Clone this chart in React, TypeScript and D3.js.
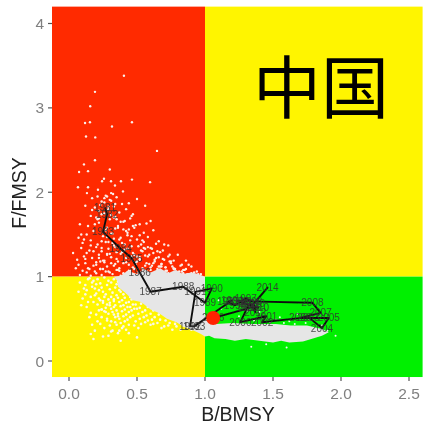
import React from "react";
import * as d3 from "d3";

const W = 423, H = 425;
const xTicks = [0, 0.5, 1, 1.5, 2, 2.5];
const yTicks = [0, 1, 2, 3, 4];

const years = [1981,1982,1983,1984,1985,1986,1987,1988,1989,1990,1991,1992,1993,1994,1995,1996,1997,1998,1999,2000,2001,2002,2003,2004,2005,2006,2007,2008,2009,2010,2011,2012,2013,2014,2015,2016];
const bmsy = [0.265,0.28,0.25,0.38,0.46,0.52,0.60,0.84,1.0,1.05,0.93,0.89,0.92,1.2,1.17,1.22,1.3,1.34,1.31,1.26,1.45,1.42,1.76,1.86,1.91,1.70,1.85,1.79,1.24,1.39,1.33,1.37,1.36,1.46,1.33,1.06];
const fmsy = [1.82,1.74,1.53,1.33,1.22,1.05,0.82,0.88,0.69,0.86,0.82,0.41,0.41,0.72,0.70,0.66,0.74,0.71,0.63,0.46,0.53,0.46,0.52,0.39,0.51,0.51,0.57,0.69,0.71,0.63,0.68,0.58,0.68,0.87,0.63,0.51];

const cloudX = [0.36,0.42,0.47,0.53,0.6,0.66,0.72,0.79,0.85,0.92,0.97,1.0,1.03,1.07,1.15,1.22,1.3,1.4,1.5,1.56,1.62,1.72,1.8,1.86,1.91,1.86,1.75,1.63,1.52,1.35,1.2,1.08,1.02,1.0,1.0,0.95,0.9,0.84,0.78,0.73,0.67,0.6,0.55,0.5,0.43,0.38,0.33,0.36];
const cloudY = [0.88,0.8,0.72,0.7,0.61,0.57,0.5,0.46,0.4,0.36,0.32,0.29,0.3,0.27,0.26,0.24,0.26,0.24,0.22,0.24,0.22,0.23,0.27,0.3,0.34,0.38,0.42,0.42,0.44,0.44,0.45,0.44,0.47,0.55,1.0,1.03,1.05,1.03,1.08,1.04,1.1,1.05,1.09,1.03,1.07,1.01,1.0,0.94];

const redDotX = [0.404,0.191,0.156,0.118,0.154,0.316,0.463,0.125,0.193,0.647,0.191,0.11,0.074,0.14,0.30,0.066,0.14,0.243,0.257,0.309,0.382,0.463,0.596,0.338,0.213,0.397,0.132,0.324,
0.17,0.21,0.24,0.27,0.31,0.35,0.39,0.44,0.5,0.56,0.12,0.19,0.23,0.29,0.33,0.37,0.42,0.47,0.16,0.2,0.26,0.3,0.34,0.41,0.45,0.52,0.6,0.08,0.14,0.22,0.28,0.36,0.4,0.48,0.55,0.62,
0.07,0.13,0.18,0.25,0.32,0.38,0.43,0.5,0.58,0.66,0.1,0.16,0.21,0.27,0.33,0.39,0.46,0.53,0.61,0.7,0.03,0.09,0.15,0.2,0.24,0.29,0.35,0.41,0.47,0.54,0.59,0.65,0.73,0.8,
0.06,0.11,0.17,0.22,0.26,0.31,0.36,0.42,0.49,0.52,0.57,0.63,0.68,0.75,0.83,0.9,0.94,0.12,0.18,0.23,0.28,0.34,0.37,0.44,0.48,0.56,0.6,0.66,0.71,0.77,0.86,0.1,0.14,0.19,0.25,0.3,0.35,0.4,0.45,0.51,0.55,0.62,0.67,0.72,0.79,0.84,0.92,0.97,
0.08,0.13,0.16,0.2,0.24,0.27,0.32,0.38,0.43,0.47,0.53,0.58,0.64,0.69,0.74,0.78,0.82,0.87,0.91,
0.2,0.23,0.26,0.29,0.33,0.36,0.4,0.44,0.47,0.5,0.54,0.57,0.61,0.65,0.68,0.72,0.76,0.8,0.84,0.22,0.25,0.28,0.31,0.35,0.38,0.42,0.46,0.49,0.52,0.56,0.59,0.63,0.67,0.71,0.75,0.78,0.82,
0.18,0.24,0.3,0.34,0.39,0.43,0.48,0.53,0.58,0.62,0.66,0.7,0.74,0.77,0.24,0.28,0.32,0.37,0.41,0.45,0.51,0.55,0.6,0.64,0.69,0.73,0.27,0.31,0.36,0.42,0.47,0.52,0.57,0.35,0.4,0.46,0.22,0.29,0.26,0.3,0.24,0.33,0.28,0.22,0.31,0.34,
0.11,0.19,0.37,0.56,0.77,0.69,0.88,0.15,0.44,0.62,0.05,0.31,0.52,0.09,0.74,0.26,0.58,0.83,0.13,0.49,0.67,0.95,0.21,0.41,0.86,0.07,0.33,0.71,0.16,0.54,0.9,0.28,0.64,0.38,0.81,0.23,0.6,0.46,0.17,0.73,0.34,0.93,0.12,0.55,0.43,0.68,0.29,0.85,0.2,0.5];
const redDotY = [3.38,3.19,3.02,2.82,2.83,2.78,2.83,2.66,2.65,2.49,2.38,2.33,2.24,2.25,2.27,2.06,2.06,2.13,2.16,2.13,2.13,2.15,2.12,2.08,2.03,2.01,1.99,1.98,
1.93,1.95,1.89,1.96,1.9,1.94,1.86,1.87,1.92,1.84,1.84,1.82,1.85,1.8,1.83,1.76,1.8,1.74,1.72,1.7,1.75,1.68,1.71,1.66,1.69,1.62,1.66,1.62,1.6,1.64,1.58,1.6,1.56,1.58,1.52,1.55,
1.46,1.5,1.54,1.48,1.51,1.46,1.49,1.44,1.47,1.42,1.4,1.43,1.38,1.41,1.37,1.4,1.36,1.38,1.33,1.38,1.28,1.34,1.31,1.35,1.3,1.33,1.29,1.32,1.28,1.3,1.26,1.3,1.24,1.26,
1.2,1.24,1.22,1.26,1.19,1.23,1.18,1.22,1.17,1.21,1.16,1.2,1.15,1.18,1.14,1.12,1.06,1.16,1.13,1.18,1.12,1.15,1.1,1.14,1.09,1.13,1.08,1.12,1.07,1.1,1.09,1.07,1.1,1.06,1.09,1.05,1.08,1.04,1.07,1.05,1.08,1.04,1.06,1.03,1.06,1.04,1.05,1.03,
1.02,1.05,1.01,1.04,1.02,1.06,1.03,1.01,1.05,1.02,1.04,1.01,1.03,1.05,1.02,1.04,1.01,1.03,1.02,
1.14,1.09,1.17,1.06,1.13,1.08,1.16,1.07,1.11,1.18,1.1,1.06,1.13,1.09,1.15,1.07,1.12,1.05,1.08,1.22,1.19,1.26,1.16,1.21,1.27,1.17,1.24,1.14,1.2,1.25,1.15,1.18,1.12,1.11,1.16,1.09,1.13,
1.3,1.34,1.27,1.35,1.29,1.33,1.26,1.31,1.24,1.28,1.23,1.2,1.26,1.19,1.42,1.47,1.4,1.44,1.38,1.43,1.36,1.41,1.34,1.39,1.31,1.37,1.55,1.51,1.58,1.54,1.6,1.49,1.63,1.68,1.65,1.72,1.78,1.83,1.88,1.91,1.74,1.7,1.95,1.69,1.99,1.86,
1.44,1.62,1.07,1.33,1.09,1.21,1.14,1.09,1.56,1.16,1.1,1.73,1.23,1.5,1.18,1.93,1.35,1.06,1.28,1.61,1.29,1.03,1.68,1.03,1.19,1.14,1.45,1.11,1.37,1.43,1.04,1.27,1.22,1.65,1.06,1.09,1.11,1.48,1.79,1.04,1.57,1.02,1.21,1.34,1.52,1.12,1.41,1.08,1.17,1.24];

const yellowDotX = [0.15,0.21,0.26,0.29,0.33,0.36,0.41,0.46,0.5,0.54,0.57,0.61,0.65,0.7,0.76,0.81,0.85,0.89,0.12,0.17,0.23,0.28,0.31,0.35,0.39,0.44,0.49,0.52,0.56,0.6,0.63,0.68,0.72,0.77,0.83,0.88,
0.13,0.19,0.24,0.3,0.34,0.37,0.42,0.47,0.51,0.55,0.59,0.64,0.69,0.75,0.8,0.86,0.92,
0.16,0.2,0.25,0.27,0.32,0.35,0.38,0.4,0.43,0.45,0.48,0.5,0.53,0.58,0.62,0.66,0.71,0.74,0.78,0.84,0.9,
0.18,0.22,0.26,0.29,0.31,0.33,0.36,0.39,0.41,0.44,0.46,0.49,0.52,0.56,0.6,0.63,0.67,0.73,0.79,0.82,
0.21,0.25,0.28,0.3,0.34,0.37,0.4,0.42,0.45,0.47,0.5,0.54,0.57,0.61,0.65,0.7,0.76,
0.24,0.27,0.31,0.33,0.35,0.38,0.41,0.43,0.46,0.48,0.51,0.55,0.58,0.62,0.68,0.29,0.32,0.36,0.39,0.42,0.44,0.47,0.52,0.56,0.6,
0.34,0.37,0.4,0.43,0.45,0.49,0.53,0.38,0.41,0.44,0.48,0.51,0.35,0.39,0.31,0.37,0.28,0.33,0.42,0.36,0.3,0.26,0.23,0.34,0.32,
0.08,0.11,0.14,0.1,0.17,0.13,0.2,0.16,0.19,0.22,0.09,0.25,0.15,0.18,0.27,0.12,0.21,0.24,0.07,0.17,0.3,0.14,0.26,0.2,0.33,0.23,0.19,0.28,0.16,0.36,0.22,0.25,0.4,0.31,0.18,0.44,0.29,0.5,0.38,0.24];
const yellowDotY = [0.98,0.97,0.99,0.95,0.97,0.94,0.98,0.96,0.93,0.95,0.92,0.9,0.87,0.83,0.78,0.72,0.68,0.62,0.9,0.93,0.92,0.9,0.93,0.91,0.89,0.92,0.88,0.85,0.83,0.78,0.74,0.7,0.66,0.6,0.54,0.48,
0.84,0.86,0.87,0.85,0.87,0.84,0.86,0.83,0.79,0.76,0.71,0.68,0.61,0.54,0.5,0.45,0.39,
0.76,0.8,0.82,0.79,0.81,0.78,0.82,0.79,0.81,0.76,0.78,0.73,0.68,0.64,0.6,0.55,0.48,0.45,0.44,0.42,0.37,
0.7,0.74,0.76,0.73,0.76,0.71,0.75,0.72,0.75,0.7,0.73,0.67,0.63,0.6,0.56,0.52,0.49,0.42,0.41,0.37,
0.67,0.69,0.67,0.69,0.66,0.7,0.66,0.69,0.64,0.67,0.62,0.58,0.54,0.49,0.45,0.41,0.37,
0.61,0.63,0.62,0.64,0.6,0.65,0.61,0.64,0.6,0.62,0.56,0.52,0.48,0.44,0.39,0.56,0.58,0.56,0.59,0.55,0.58,0.54,0.5,0.46,0.43,
0.52,0.5,0.53,0.49,0.52,0.47,0.44,0.45,0.47,0.43,0.42,0.39,0.43,0.39,0.47,0.36,0.5,0.55,0.37,0.33,0.42,0.59,0.72,0.46,0.36,
0.93,0.86,0.97,0.74,0.88,0.64,0.91,0.57,0.78,0.84,0.66,0.71,0.52,0.95,0.58,0.79,0.47,0.61,0.82,0.43,0.66,0.7,0.39,0.55,0.73,0.44,0.36,0.48,0.32,0.53,0.6,0.29,0.41,0.35,0.26,0.33,0.3,0.28,0.24,0.52];

const greenDotX = [1.06,1.12,1.2,1.31,1.4,1.55,1.62,1.68,1.77,1.9,1.96,1.45,1.52,1.6,1.1,1.25,1.86,1.34,1.71,1.48,1.58,1.66,1.36,1.74];
const greenDotY = [0.54,0.62,0.73,0.6,0.58,0.52,0.47,0.56,0.49,0.36,0.3,0.2,0.49,0.16,0.72,0.53,0.42,0.17,0.38,0.46,0.45,0.44,0.48,0.45];

const x = d3.scaleLinear().domain([0, 2.5]).range([69, 409]);
const y = d3.scaleLinear().domain([0, 4]).range([361, 23.5]);
const xMin = -0.125, xMax = 2.6, yMin = -0.19, yMax = 4.2;
const zones = [
  { x0: xMin, x1: 1, y0: 1, y1: yMax, fill: "#ff2b00" },
  { x0: 1, x1: xMax, y0: 1, y1: yMax, fill: "#fff500" },
  { x0: xMin, x1: 1, y0: yMin, y1: 1, fill: "#fff500" },
  { x0: 1, x1: xMax, y0: yMin, y1: 1, fill: "#00f000" },
];

const idx = (a: number[]) => a.map((_, i) => i);
const trajectory = d3.line<number>().x(i => x(bmsy[i])).y(i => y(fmsy[i]));
const cloud = d3.line<number>().x(i => x(cloudX[i])).y(i => y(cloudY[i])).curve(d3.curveLinearClosed);
const sans = "'Liberation Sans', Arial, sans-serif";

export default function App() {
  return (
    <svg width={W} height={H} style={{ position: "absolute", left: 0, top: 0, background: "#fff" }}>
      <defs>
        <filter id="soft" x="-5%" y="-5%" width="110%" height="110%"><feGaussianBlur stdDeviation="0.55" /></filter>
      </defs>
      <g filter="url(#soft)">
        {zones.map((z, i) => (
          <rect key={i} x={x(z.x0)} y={y(z.y1)} width={x(z.x1) - x(z.x0)} height={y(z.y0) - y(z.y1)} fill={z.fill} />
        ))}
        {idx(redDotX).map(i => <circle key={i} cx={x(redDotX[i])} cy={y(redDotY[i])} r={1.2} fill="#fbeeea" />)}
        {idx(yellowDotX).map(i => <circle key={i} cx={x(yellowDotX[i])} cy={y(yellowDotY[i])} r={1.3} fill="#fbf8e8" />)}
        {idx(greenDotX).map(i => <circle key={i} cx={x(greenDotX[i])} cy={y(greenDotY[i])} r={1} fill="#eef5ee" />)}
        <path d={cloud(idx(cloudX)) ?? ""} fill="#e6e6e6" />
        <path d={trajectory(idx(bmsy)) ?? ""} fill="none" stroke="#111" strokeWidth={1.9} strokeLinejoin="round" />
        {years.map((yr, i) => (
          <text key={yr} x={x(bmsy[i])} y={y(fmsy[i])} dy="0.35em" textAnchor="middle" fontSize={10} fontFamily={sans} fill="#333" fillOpacity={0.85}>{yr}</text>
        ))}
        <circle cx={x(bmsy[bmsy.length - 1])} cy={y(fmsy[fmsy.length - 1])} r={7} fill="#ff2200" />
        {xTicks.map(t => (
          <g key={t}>
            <line x1={x(t)} x2={x(t)} y1={377} y2={381} stroke="#555" strokeWidth={1.2} />
            <text x={x(t)} y={398.5} textAnchor="middle" fontSize={15.5} fontFamily={sans} fill="#7f7f7f">{t.toFixed(1)}</text>
          </g>
        ))}
        {yTicks.map(t => (
          <g key={t}>
            <line x1={48} x2={52} y1={y(t)} y2={y(t)} stroke="#555" strokeWidth={1.2} />
            <text x={44} y={y(t)} dy="0.36em" textAnchor="end" fontSize={15.5} fontFamily={sans} fill="#7f7f7f">{t}</text>
          </g>
        ))}
        <text x={238} y={421} textAnchor="middle" fontSize={19.5} fontFamily={sans} fill="#222">B/BMSY</text>
        <text transform="translate(26,193) rotate(-90)" textAnchor="middle" fontSize={19.5} fontFamily={sans} fill="#222">F/FMSY</text>
        <text x={321} y={113} textAnchor="middle" fontSize={68} fontFamily="'Noto Sans CJK SC'" fill="#000">中国</text>
      </g>
    </svg>
  );
}
